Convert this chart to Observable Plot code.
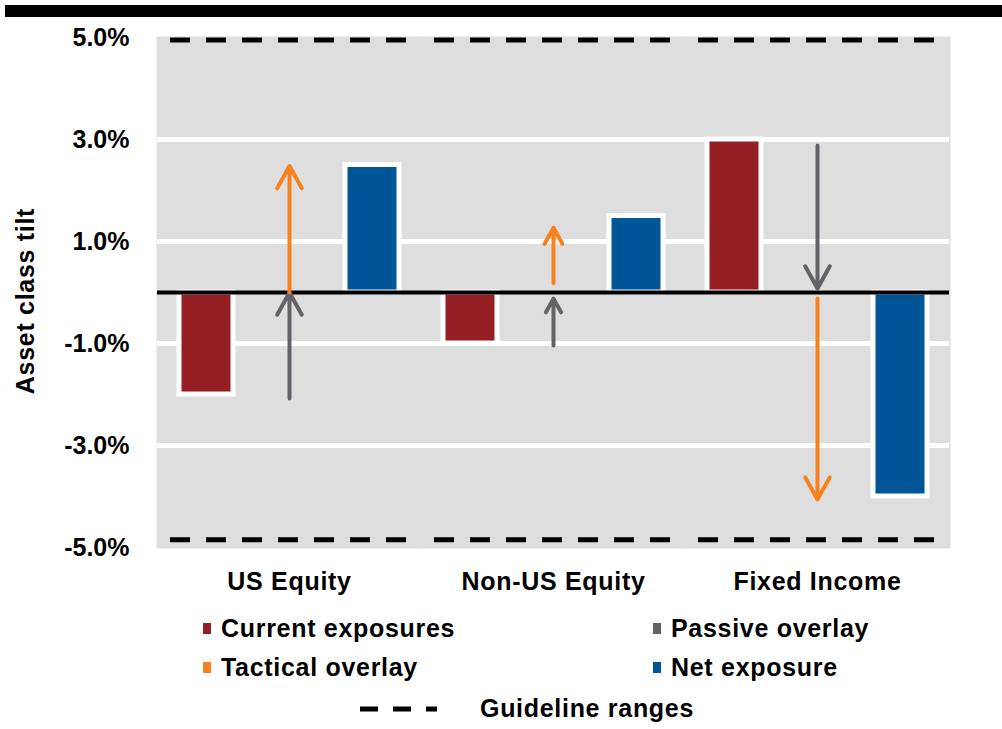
<!DOCTYPE html>
<html>
<head>
<meta charset="utf-8">
<script src="https://cdn.jsdelivr.net/npm/d3@7"></script>
<script src="https://cdn.jsdelivr.net/npm/@observablehq/plot@0.6"></script>
<style>
  body { margin: 0; background: #fff; font-family: "Liberation Sans", Arial, sans-serif; }
  #wrap { position: relative; width: 1002px; height: 729px; overflow: hidden; }
  #chart { position: absolute; left: 0; top: 0; }
  #topbar { position: absolute; left: 5px; top: 5px; width: 997px; height: 12px; background: #000; }
  .t { position: absolute; font-weight: bold; font-size: 25px; line-height: 25px; letter-spacing: 0.7px; white-space: nowrap; color: #000; }
  .sw { position: absolute; width: 8px; height: 11px; }
  #ylabel { position: absolute; left: 25px; top: 301px; transform: translate(-50%, -50%) rotate(-90deg); }
  [aria-label="fx-axis tick label"] text { letter-spacing: 0.7px; }
</style>
</head>
<body>
<div id="wrap">
  <div id="chart"></div>
  <div id="topbar"></div>
  <div id="ylabel" class="t">Asset class tilt</div>
  <div id="legend"></div>
</div>
<script>
// ---- data ----
const groups = ["US Equity", "Non-US Equity", "Fixed Income"];
const seriesKeys = ["current", "overlay", "net"];
const currentExposure = [-2.0, -1.0, 3.0];
const netExposure = [2.5, 1.5, -4.0];
const passiveFrom = [-2.08, -1.04, 2.88];
const passiveTo = [0, -0.12, 0.08];
const tacticalFrom = [0, 0.18, -0.12];
const tacticalTo = [2.48, 1.27, -4.06];
const guidelineRange = [4.95, -4.85];
const gridValues = [3, 1, -1, -3];
const yTicks = [5, 3, 1, -1, -3, -5];
const legendLabels = ["Current exposures", "Passive overlay", "Tactical overlay", "Net exposure"];
const guidelineLabel = "Guideline ranges";
const yLabel = "Asset class tilt";

// ---- styles ----
const colorKeys = ["current", "passive", "tactical", "net"];
const colorRange = ["#961F24", "#626366", "#F5821F", "#005596"];
const bgColor = "#DEDEDE";

// ---- tables ----
const bars = [];
groups.forEach((g, i) => {
  bars.push({group: g, series: "current", kind: "current", value: currentExposure[i]});
  bars.push({group: g, series: "net", kind: "net", value: netExposure[i]});
});
const arrows = [];
groups.forEach((g, i) => {
  arrows.push({group: g, series: "overlay", kind: "passive", from: passiveFrom[i], to: passiveTo[i]});
  arrows.push({group: g, series: "overlay", kind: "tactical", from: tacticalFrom[i], to: tacticalTo[i]});
});

const chart = Plot.plot({
  width: 1002,
  height: 600,
  marginTop: 37,
  marginBottom: 53,
  marginLeft: 157,
  marginRight: 53,
  style: {fontFamily: "'Liberation Sans', Arial, sans-serif", color: "#000", background: "transparent"},
  fx: {domain: groups, padding: 0, label: null},
  x: {domain: seriesKeys, paddingInner: 0.345, paddingOuter: 0.244, axis: null},
  y: {domain: [-5, 5], label: null},
  color: {domain: colorKeys, range: colorRange},
  marks: [
    Plot.frame({fill: bgColor, stroke: bgColor, strokeWidth: 2}),
    Plot.ruleY(gridValues, {stroke: "white", strokeWidth: 5}),
    Plot.ruleY(guidelineRange, {stroke: "black", strokeWidth: 5, strokeDasharray: "20,16", strokeDashoffset: 23}),
    Plot.barY(bars, {fx: "group", x: "series", y: "value", fill: "kind", stroke: "white", strokeWidth: 5}),
    Plot.ruleY([0], {stroke: "black", strokeWidth: 4}),
    Plot.arrow(arrows, {fx: "group", x1: "series", x2: "series", y1: "from", y2: "to", stroke: "kind", strokeWidth: 4, headLength: 9.5, headAngle: 58}),
    Plot.axisY(yTicks, {tickSize: 0, tickPadding: 28, tickFormat: d => d.toFixed(1) + "%", fontSize: 25, fontWeight: "bold", label: null}),
    Plot.axisFx({anchor: "bottom", tickSize: 0, tickPadding: 25, fontSize: 25, fontWeight: "bold", label: null})
  ]
});
document.getElementById("chart").appendChild(chart);
document.getElementById("ylabel").textContent = yLabel;

// ---- legend (HTML) ----
const legend = document.getElementById("legend");
const legendPos = [
  {sx: 203, tx: 221, cy: 628, key: "current"},
  {sx: 653, tx: 671, cy: 628, key: "passive"},
  {sx: 203, tx: 221, cy: 667, key: "tactical"},
  {sx: 653, tx: 671, cy: 667, key: "net"}
];
legendLabels.forEach((lab, i) => {
  const p = legendPos[i];
  const sw = document.createElement("div");
  sw.className = "sw";
  sw.style.left = p.sx + "px";
  sw.style.top = (p.cy - 5) + "px";
  sw.style.background = colorRange[colorKeys.indexOf(p.key)];
  legend.appendChild(sw);
  const t = document.createElement("div");
  t.className = "t";
  t.style.left = p.tx + "px";
  t.style.top = (p.cy - 12) + "px";
  t.textContent = lab;
  legend.appendChild(t);
});
const ns = "http://www.w3.org/2000/svg";
const dsvg = document.createElementNS(ns, "svg");
dsvg.setAttribute("width", 80);
dsvg.setAttribute("height", 10);
dsvg.style.position = "absolute";
dsvg.style.left = "360px";
dsvg.style.top = "704px";
const dl = document.createElementNS(ns, "line");
dl.setAttribute("x1", 0); dl.setAttribute("x2", 77);
dl.setAttribute("y1", 5); dl.setAttribute("y2", 5);
dl.setAttribute("stroke", "#000");
dl.setAttribute("stroke-width", 5);
dl.setAttribute("stroke-dasharray", "18,15");
dsvg.appendChild(dl);
legend.appendChild(dsvg);
const gt = document.createElement("div");
gt.className = "t";
gt.style.left = "480px";
gt.style.top = "696px";
gt.textContent = guidelineLabel;
legend.appendChild(gt);
</script>
</body>
</html>
